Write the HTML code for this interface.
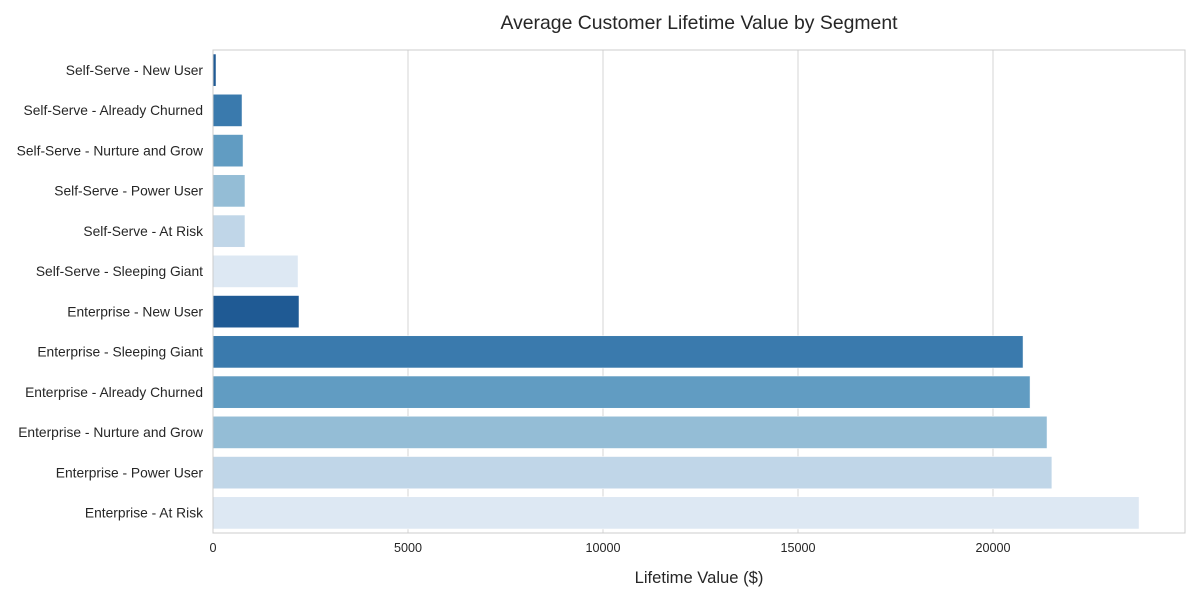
<!DOCTYPE html>
<html><head><meta charset="utf-8"><style>
body{margin:0;background:#fff;font-family:"Liberation Sans",sans-serif}
</style></head><body>
<svg id="chart" width="1200" height="600" xmlns="http://www.w3.org/2000/svg">
<rect width="1200" height="600" fill="#fff"/>
<text x="699" y="29" text-anchor="middle" font-size="19.4" fill="#262626">Average Customer Lifetime Value by Segment</text>
<g id="grid"></g><g id="bars"></g><g id="ylabels"></g><g id="xticks"></g>
<rect x="213" y="50" width="972" height="483" fill="none" stroke="#cccccc" stroke-width="1"/>
<text x="699" y="583" text-anchor="middle" font-size="16.6" fill="#262626">Lifetime Value ($)</text>
</svg>
<script>
const categories=["Self-Serve - New User","Self-Serve - Already Churned","Self-Serve - Nurture and Grow","Self-Serve - Power User","Self-Serve - At Risk","Self-Serve - Sleeping Giant","Enterprise - New User","Enterprise - Sleeping Giant","Enterprise - Already Churned","Enterprise - Nurture and Grow","Enterprise - Power User","Enterprise - At Risk"];
const values=[77,744,770,820,820,2180,2205,20770,20950,21385,21510,23745];
const xTicks=[0,5000,10000,15000,20000];
const palette=["#1f5a94","#3a7aad","#619cc2","#94bdd6","#c0d6e8","#dde8f3"];
const NS="http://www.w3.org/2000/svg";
const x0=213,x1=1185,xMax=24923,y0=50,y1=533;
const xs=v=>x0+(v/xMax)*(x1-x0);
const band=(y1-y0)/categories.length;
const ys=i=>y0+i*band;
function mk(t,a){const e=document.createElementNS(NS,t);for(const k in a)e.setAttribute(k,a[k]);return e;}
const grid=document.getElementById('grid'),bars=document.getElementById('bars'),yl=document.getElementById('ylabels'),xt=document.getElementById('xticks');
xTicks.forEach(t=>{
  const l=mk('line',{x1:xs(t),x2:xs(t),y1:y0,y2:y1,stroke:'#d6d6d6','stroke-width':1});
  
  
  grid.appendChild(l);
  const tx=mk('text',{x:xs(t),y:552,'text-anchor':'middle','font-size':12.6,fill:'#262626'});
  tx.textContent=t;
  
  
  xt.appendChild(tx);
});
categories.forEach((c,i)=>{
  const r=mk('rect',{x:x0,y:ys(i)+band*0.1,width:xs(values[i])-x0,height:band*0.8,fill:palette[i%6],stroke:'#fff','stroke-width':0.5});
  
  
  bars.appendChild(r);
  const t=mk('text',{x:203,y:ys(i)+band/2+4.8,'text-anchor':'end','font-size':13.8,fill:'#262626'});
  t.textContent=c;
  
  
  yl.appendChild(t);
});
</script>
</body></html>
